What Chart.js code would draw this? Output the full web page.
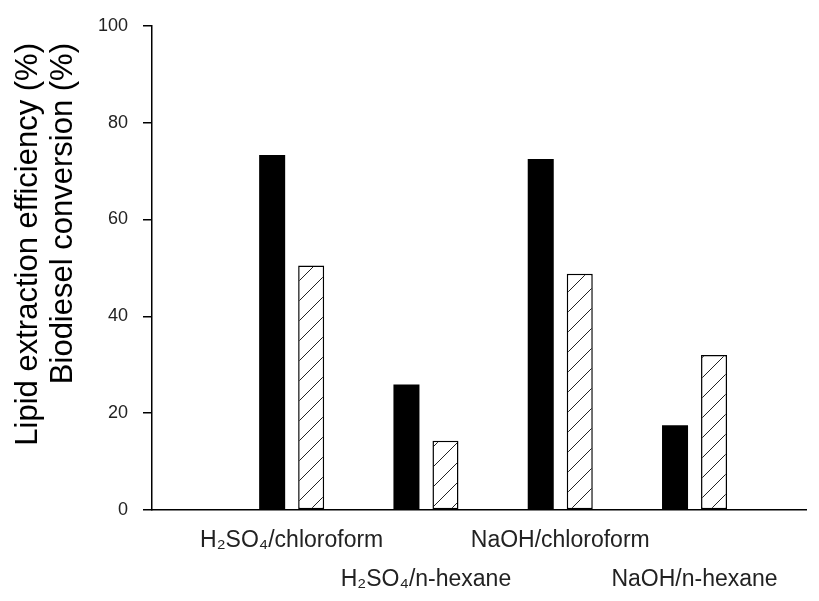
<!DOCTYPE html>
<html>
<head>
<meta charset="utf-8">
<script src="https://cdn.jsdelivr.net/npm/chart.js@4.4.0/dist/chart.umd.min.js"></script>
<style>
  html, body { margin: 0; padding: 0; background: #fff; }
  #wrap { width: 819px; height: 601px; position: relative; }
</style>
</head>
<body>
<div id="wrap"><canvas id="chart"></canvas></div>
<script>
// values
const positions = [1, 2, 3, 4];
const categories = [
    ['H\u2082SO\u2084/chloroform'],
    ['', 'H\u2082SO\u2084/n-hexane'],
    ['NaOH/chloroform'],
    ['', 'NaOH/n-hexane']
];
const lipidExtraction = [73.3, 25.9, 72.5, 17.5];
const biodieselConversion = [50.5, 14.3, 48.8, 32.0];
const yTitle = ['Lipid extraction efficiency (%)  ', 'Biodiesel conversion (%)  '];

// diagonal hatch for the second series
function makeHatch() {
    const c = document.createElement('canvas');
    c.width = 20;
    c.height = 20;
    const g = c.getContext('2d');
    g.fillStyle = '#fff';
    g.fillRect(0, 0, 20, 20);
    g.strokeStyle = '#222';
    g.lineWidth = 1;
    g.beginPath();
    g.moveTo(-2, 22); g.lineTo(22, -2);
    g.moveTo(-2, 2); g.lineTo(2, -2);
    g.moveTo(18, 22); g.lineTo(22, 18);
    g.stroke();
    return g.createPattern(c, 'repeat');
}

function toPoints(values) {
    return positions.map((p, i) => ({ x: p, y: values[i] }));
}

const chartConfig = {
    type: 'bar',
    data: {
        datasets: [{
            label: 'Lipid extraction efficiency',
            data: toPoints(lipidExtraction),
            backgroundColor: '#000',
            borderWidth: 0
        }, {
            label: 'Biodiesel conversion',
            data: toPoints(biodieselConversion),
            backgroundColor: makeHatch(),
            borderColor: '#000',
            borderWidth: 1.5,
            borderSkipped: false
        }]
    },
    options: {
        responsive: true,
        maintainAspectRatio: false,
        animation: false,
        categoryPercentage: 0.581,
        barPercentage: 0.667,
        layout: { padding: { top: 24, right: 13, bottom: 0, left: 6 } },
        plugins: {
            legend: { display: false },
            tooltip: { enabled: false }
        },
        scales: {
            x: {
                type: 'linear',
                min: -0.04,
                max: 4.83,
                offset: false,
                grid: { display: false, drawTicks: false },
                border: { display: true, color: '#000', width: 1.5 },
                afterBuildTicks: scale => {
                    scale.ticks = positions.map(v => ({ value: v }));
                },
                afterFit: scale => { scale.height = 91; },
                ticks: {
                    autoSkip: false,
                    minRotation: 0,
                    maxRotation: 0,
                    padding: 11,
                    color: '#222',
                    font: { family: 'Liberation Sans, Arial, sans-serif', size: 23, lineHeight: 1.7 },
                    callback: v => categories[positions.indexOf(v)]
                }
            },
            y: {
                min: 0,
                max: 100,
                grid: {
                    drawOnChartArea: false,
                    drawTicks: true,
                    tickLength: 9,
                    color: '#000',
                    lineWidth: 1.5
                },
                border: { display: true, color: '#000', width: 1.5 },
                afterFit: scale => { scale.width = 146; },
                ticks: {
                    stepSize: 20,
                    padding: 15,
                    color: '#222',
                    font: { family: 'Liberation Sans, Arial, sans-serif', size: 18 }
                },
                title: {
                    display: true,
                    text: yTitle,
                    align: 'end',
                    color: '#000',
                    padding: { top: 5, bottom: 0 },
                    font: { family: 'Liberation Sans, Arial, sans-serif', size: 31, lineHeight: 1.13 }
                }
            }
        }
    }
};

new Chart(document.getElementById('chart'), chartConfig);
</script>
</body>
</html>
